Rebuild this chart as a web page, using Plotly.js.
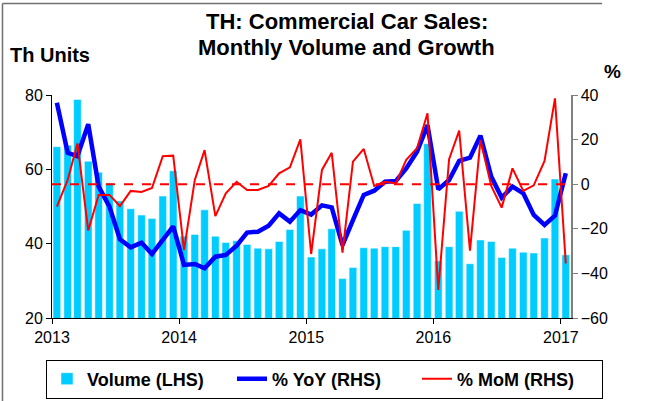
<!DOCTYPE html>
<html>
<head>
<meta charset="utf-8">
<script src="https://cdn.plot.ly/plotly-3.0.1.min.js"></script>
<style>html,body{margin:0;padding:0;background:#fff;}#chart{width:648px;height:401px;}</style>
</head>
<body>
<div id="chart"></div>
<script>
// Months Jan 2013 .. Jan 2017 (mid-month)
const months = [];
for (let y = 2013; y <= 2017; y++) {
  for (let m = 1; m <= 12; m++) {
    if (y === 2017 && m > 1) break;
    months.push(y + '-' + String(m).padStart(2, '0') + '-15');
  }
}

// Volume, thousand units (LHS)
const volume = [
  66.1, 66.5, 78.8, 62.2, 59.2, 56.3, 51.5, 49.4, 47.7, 46.8, 52.8, 59.6,
  42.0, 42.5, 49.1, 42.0, 40.3, 40.8, 39.8, 38.8, 38.6, 40.6, 43.8, 52.8,
  36.4, 38.6, 44.0, 30.6, 33.6, 38.9, 38.8, 39.2, 39.2, 43.6, 50.8, 66.9,
  35.4, 39.2, 48.7, 34.6, 41.0, 40.6, 36.3, 38.8, 37.7, 37.5, 41.5, 57.4,
  37.0
];

// % YoY (RHS)
const yoy = [
  36.5, 14.1, 12.6, 26.9, -1.1, -10.1, -24.7, -28.3, -26.2, -31.3, -25.0, -18.9,
  -36.2, -35.8, -37.7, -32.5, -31.7, -27.6, -21.7, -21.3, -18.6, -13.1, -16.8, -11.6,
  -13.6, -9.5, -10.4, -27.3, -16.1, -4.8, -2.9, 1.1, 1.4, 7.1, 14.6, 26.5,
  -2.3, 1.9, 10.5, 11.9, 21.8, 3.4, -6.0, -1.1, -4.1, -13.8, -18.3, -14.1,
  4.9
];

// % MoM (RHS)
const mom = [
  -10.1, 1.9, 18.3, -20.8, -4.8, -4.8, -9.8, -3.0, -3.5, -1.7, 12.6, 12.8,
  -29.5, 1.9, 15.3, -14.3, -4.1, 1.1, -2.6, -2.6, -0.8, 4.9, 7.6, 20.1,
  -31.3, 6.4, 14.1, -30.7, 10.1, 15.8, -0.8, 1.1, 0.4, 10.9, 16.1, 31.8,
  -47.4, 11.2, 24.0, -29.8, 19.8, -0.8, -10.5, 7.1, -3.0, -0.5, 10.4, 38.5,
  -35.5
];

const yearTicks = ['2013-01-01', '2014-01-01', '2015-01-01', '2016-01-01', '2017-01-01'];
const yearLabels = ['2013', '2014', '2015', '2016', '2017'];

const FONT = 'Liberation Sans, Arial, sans-serif';
const DAY = 86400000;

const traces = [
  {
    type: 'bar', x: months, y: volume, name: '<b>Volume (LHS)</b>',
    marker: {color: '#00CCFF', line: {color: '#FFFFFF', width: 0.5}},
    width: months.map(() => 22 * DAY),
    yaxis: 'y'
  },
  {
    type: 'scatter', mode: 'lines', x: months, y: yoy, name: '<b>% YoY (RHS)</b>',
    line: {color: '#0000FF', width: 4.5}, yaxis: 'y2'
  },
  {
    type: 'scatter', mode: 'lines', x: months, y: mom, name: '<b>% MoM (RHS)</b>',
    line: {color: '#FF0000', width: 2}, yaxis: 'y2'
  }
];

const layout = {
  width: 648, height: 401,
  margin: {l: 52, r: 77, t: 95, b: 83, autoexpand: false},
  paper_bgcolor: '#FFFFFF', plot_bgcolor: '#FFFFFF',
  font: {family: FONT, size: 16, color: '#000'},
  showlegend: true,
  xaxis: {
    type: 'date', range: ['2013-01-01', '2017-01-30'],
    tickvals: yearTicks, ticktext: yearLabels,
    ticks: 'outside', ticklen: 5, tickcolor: '#000',
    showline: true, linecolor: '#000', linewidth: 1,
    showgrid: false, zeroline: false, automargin: false,
    tickfont: {family: FONT, size: 16, color: '#000'}
  },
  yaxis: {
    range: [20, 80], dtick: 20, tick0: 20,
    ticks: 'outside', ticklen: 5, tickcolor: '#000',
    showline: true, linecolor: '#000', linewidth: 1,
    showgrid: false, zeroline: false, automargin: false,
    tickfont: {family: FONT, size: 16, color: '#000'}
  },
  yaxis2: {
    overlaying: 'y', side: 'right',
    range: [-60, 40], dtick: 20, tick0: -60,
    ticks: 'outside', ticklen: 5, tickcolor: '#808080',
    showline: true, linecolor: '#808080', linewidth: 1.5,
    showgrid: false, zeroline: false, automargin: false,
    tickfont: {family: FONT, size: 16, color: '#000'}
  },
  legend: {
    orientation: 'h', x: (46 - 52) / 519, xanchor: 'left',
    y: (318 - 379) / 223, yanchor: 'middle',
    bordercolor: '#000', borderwidth: 1, bgcolor: '#FFFFFF',
    font: {family: FONT, size: 18, color: '#000'},
    entrywidth: 140, entrywidthmode: 'pixels', traceorder: 'normal',
    tracegroupgap: 0
  },
  shapes: [
    {type: 'line', xref: 'paper', yref: 'y2', x0: 0, x1: 1, y0: 0, y1: 0,
     line: {color: '#FF0000', width: 2, dash: 'dash'}},
    {type: 'line', xref: 'paper', yref: 'paper', x0: -0.0954, x1: -0.0954, y0: -0.38, y1: 1.41,
     line: {color: '#707070', width: 1.5}},
    {type: 'line', xref: 'paper', yref: 'paper', x0: -0.0954, x1: 1.06, y0: 1.41, y1: 1.41,
     line: {color: '#707070', width: 1.5}}
  ],
  annotations: [
    {text: '<b>TH: Commercial Car Sales:</b>',
     xref: 'paper', yref: 'paper', x: 0.568, y: (318 - 22) / 223,
     xanchor: 'center', yanchor: 'middle', showarrow: false,
     font: {family: FONT, size: 22, color: '#000'}},
    {text: '<b>Monthly Volume and Growth</b>',
     xref: 'paper', yref: 'paper', x: 0.568, y: (318 - 47) / 223,
     xanchor: 'center', yanchor: 'middle', showarrow: false,
     font: {family: FONT, size: 22, color: '#000'}},
    {text: '<b>Th Units</b>', xref: 'paper', yref: 'paper', x: (8 - 52) / 519, y: (318 - 55) / 223,
     xanchor: 'left', yanchor: 'middle', showarrow: false,
     font: {family: FONT, size: 20, color: '#000'}},
    {text: '<b>%</b>', xref: 'paper', yref: 'paper', x: (612 - 52) / 519, y: (318 - 72) / 223,
     xanchor: 'center', yanchor: 'middle', showarrow: false,
     font: {family: FONT, size: 19, color: '#000'}}
  ]
};

Plotly.newPlot('chart', traces, layout, {displayModeBar: false, staticPlot: true});
</script>
</body>
</html>
